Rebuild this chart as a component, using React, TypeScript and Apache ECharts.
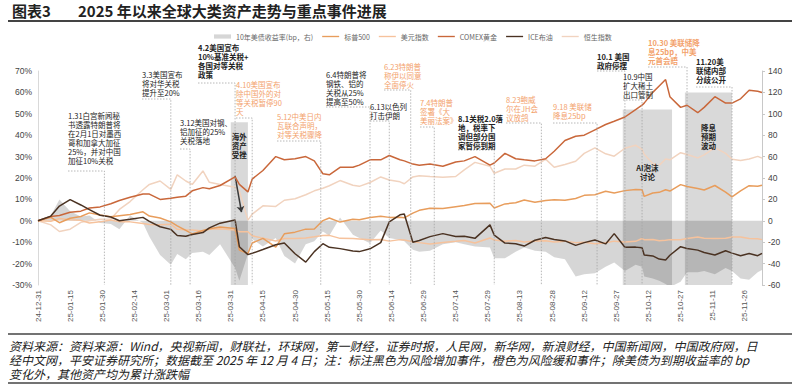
import React, { useEffect, useRef } from "react";
import * as echarts from "echarts";

// ---------- data ----------
const dates = [
  "2024-12-31","2025-01-06","2025-01-10","2025-01-15","2025-01-20","2025-01-24","2025-01-29","2025-02-03","2025-02-07","2025-02-12",
  "2025-02-18","2025-02-21","2025-02-26","2025-03-03","2025-03-06","2025-03-10","2025-03-13","2025-03-18","2025-03-21","2025-03-26",
  "2025-04-02","2025-04-04","2025-04-08","2025-04-10","2025-04-15","2025-04-21","2025-04-25","2025-04-30","2025-05-05","2025-05-09",
  "2025-05-13","2025-05-16","2025-05-21","2025-05-27","2025-05-30","2025-06-04","2025-06-09","2025-06-13","2025-06-18","2025-06-20",
  "2025-06-24","2025-06-27","2025-07-02","2025-07-08","2025-07-14","2025-07-18","2025-07-23","2025-07-30","2025-08-01","2025-08-06",
  "2025-08-11","2025-08-15","2025-08-20","2025-08-25","2025-08-29","2025-09-03","2025-09-08","2025-09-12","2025-09-17","2025-09-22",
  "2025-09-26","2025-10-01","2025-10-06","2025-10-09","2025-10-10","2025-10-14","2025-10-17","2025-10-20","2025-10-22","2025-10-27",
  "2025-10-30","2025-11-04","2025-11-07","2025-11-12","2025-11-17","2025-11-20","2025-11-24","2025-11-28","2025-12-02","2025-12-04"
];
// 10Y UST yield change, bp (right axis)
const ust10y = [
  0,5,20,9,4,5,-2,-3,-8,5,
  -2,-15,-32,-41,-31,-36,-30,-29,-32,-22,
  -44,-56,-31,-17,-24,-16,-33,-40,-22,-19,
  -10,-14,3,-13,-16,-21,-9,-16,-18,-19,
  -27,-29,-28,-22,-20,-22,-24,-25,-35,-35,
  -29,-25,-28,-29,-34,-36,-52,-50,-49,-43,
  -39,-47,-41,-43,-52,-54,-56,-59,-62,-57,
  -48,-48,-47,-50,-44,-47,-54,-55,-48,-46
];
const spx = [
  0,1.6,-0.9,1.2,2.0,3.7,2.7,1.9,2.4,2.9,
  4.2,2.2,1.3,-0.5,-2.4,-4.5,-6.1,-4.5,-3.7,-2.9,
  -3.6,-13.7,-15.3,-10.4,-8.2,-12.3,-6.1,-5.3,-3.9,-3.8,
  0.1,1.3,-0.6,0.7,0.5,1.5,2.1,1.6,1.7,1.4,
  3.6,4.9,5.9,5.8,6.6,7.1,8.1,8.2,6.0,7.9,
  8.4,9.7,8.7,9.5,9.8,9.6,10.4,11.9,12.2,13.8,
  13.0,14.1,14.6,14.5,11.4,13.0,13.3,14.5,13.9,16.9,
  16.0,15.1,14.4,16.5,13.4,11.2,14.0,16.4,16.1,16.6
];
const dxy = [
  0,-0.2,1.1,0.5,0.2,-1.0,-0.5,0.4,-0.4,-0.5,
  -1.3,-1.7,-1.9,-1.6,-4.0,-4.2,-4.3,-4.8,-4.0,-3.7,
  -4.3,-5.1,-5.1,-7.0,-8.1,-9.4,-8.3,-8.3,-8.0,-7.5,
  -6.9,-6.8,-8.2,-8.3,-8.5,-8.9,-8.7,-9.5,-8.8,-9.0,
  -9.8,-10.2,-10.8,-10.1,-9.6,-9.2,-10.4,-8.0,-9.0,-9.5,
  -9.2,-9.9,-9.4,-9.3,-9.9,-9.5,-10.2,-10.0,-10.7,-10.3,
  -9.5,-9.9,-9.6,-8.3,-8.8,-8.7,-9.3,-9.1,-8.8,-8.9,
  -8.3,-7.6,-8.2,-8.3,-8.2,-7.6,-7.6,-8.3,-8.4,-8.8
];
const gold = [
  0,2,2.5,4,4.5,6,6.5,8,9.5,11,
  12.5,12.5,10,10.5,11,11.5,14,15.5,15,16.5,
  20.5,17,13.5,19.5,23.5,30,28.5,29,30,28,
  22,21.5,25,25,26,28.5,28.5,30.5,28.5,28,
  26.5,26,26.5,25.5,27.5,28,30,26,27,31.5,
  29,28.5,28,29,32.5,37.5,39.5,40,42.5,45,
  46.5,48.5,52,54,55,60,63,66,58,53,
  54,50.5,53,58,55,55,57,61,60.5,60
];
const brent = [
  0,2.2,6.9,9.9,7.4,5.2,2.6,1.8,0,0.7,
  1.6,-0.3,-2.8,-4.0,-6.9,-7.2,-6.4,-5.5,-3.3,-1.1,
  0.4,-12.1,-15.8,-15.2,-13.4,-11.2,-10.4,-15.4,-19.3,-14.4,
  -10.7,-12.4,-13.0,-14.1,-14.4,-13.1,-10.2,-0.5,2.8,3.2,
  -10.0,-9.2,-7.4,-6.0,-7.3,-7.2,-8.2,-1.9,-6.7,-10.4,
  -10.7,-11.8,-9.1,-7.8,-8.7,-9.4,-11.5,-10.2,-9.0,-10.8,
  -6.0,-12.4,-12.3,-12.6,-16.0,-16.4,-17.9,-18.3,-16.1,-12.1,
  -12.9,-13.7,-14.8,-16.0,-14.0,-15.1,-16.3,-15.3,-16.3,-15.2
];
const hsi = [
  0,-1.9,-5.0,-3.9,-0.7,0,0.7,0.8,5.3,9.0,
  14.5,17.0,18.6,14.7,21.5,18.6,17.0,23.3,18.0,17.0,
  15.7,13.9,0.3,3.1,7.0,6.7,9.6,10.3,12.2,14.0,
  15.2,16.4,18.8,16.6,16.1,17.9,20.5,19.1,18.2,17.3,
  20.5,21.1,20.7,20.4,20.7,23.8,27.3,25.5,22.2,24.2,
  24.2,26.0,25.5,28.8,25.0,26.3,27.8,31.5,34.1,31.3,
  30.2,33.9,35.3,33.4,31.1,26.8,25.9,28.9,28.5,31.8,
  31.0,29.4,30.8,34.2,31.5,28.8,28.2,28.9,30.1,29.3
];

const seriesNames = ["10年美债收益率(bp，右)", "标普500", "美元指数", "COMEX黄金", "ICE布油", "恒生指数"];
const xStart = "2024-12-31";
const xEnd = "2025-12-04";

// shaded periods
const periodStarts = ["2025-03-31", "2025-09-30", "2025-10-29"];
const periodEnds = ["2025-04-08", "2025-10-23", "2025-11-20"];
const periodLabels = ["海外\n资产\n受挫", "AI泡沫\n讨论", "降息\n预期\n波动"];
const periodTops = [92, 104, 120]; // right-axis units

// events
const eventDates = [
  "2025-01-31","2025-03-03","2025-03-12","2025-04-02","2025-04-10","2025-05-12","2025-06-04","2025-06-13","2025-06-23",
  "2025-07-04","2025-08-01","2025-08-23","2025-09-18","2025-10-01","2025-10-09","2025-10-30","2025-11-20"
];
const eventKinds = ["risk","risk","risk","risk","ease","ease","risk","risk","ease","ease","risk","ease","ease","risk","risk","ease","risk"];
const eventTexts = [
  "1.31白宫新闻秘\n书透露特朗普将\n在2月1日对墨西\n哥和加拿大加征\n25%，并对中国\n加征10%关税",
  "3.3美国宣布\n将对华关税\n提升至20%",
  "3.12美国对钢、\n铝加征的25%\n关税落地",
  "4.2美国宣布\n10%基准关税+\n各国对等关税\n政策",
  "4.10美国宣布\n除中国外的对\n等关税暂停90\n天",
  "5.12中美日内\n瓦联合声明，\n对等关税骤降",
  "6.4特朗普将\n钢铁、铝的\n关税从25%\n提高至50%",
  "6.13以色列\n打击伊朗",
  "6.23特朗普\n称伊以同意\n全面停火",
  "7.4特朗普\n签署《大\n美丽法案》",
  "8.1关税2.0落\n地，税率下\n调但部分国\n家暂停到期",
  "8.23鲍威\n尔在JH会\n议放鸽",
  "9.18 美联储\n降息25bp",
  "10.1 美国\n政府停摆",
  "10.9中国\n扩大稀土\n出口管制",
  "10.30 美联储降\n息25bp，中美\n元首会晤",
  "11.20美\n联储内部\n分歧公开"
];
// layout (pixels): text left, text top, leader y, bold
const eventLayout = [
  { tx: 68, ty: 111, ly: 171, bold: false },
  { tx: 142, ty: 70, ly: 99, bold: false },
  { tx: 180, ty: 118, ly: 149, bold: false },
  { tx: 198, ty: 43, ly: 83, bold: true },
  { tx: 236, ty: 80, ly: 118, bold: false },
  { tx: 277, ty: 112, ly: 141, bold: false },
  { tx: 326, ty: 70, ly: 107, bold: false },
  { tx: 370, ty: 102, ly: 121, bold: false },
  { tx: 384, ty: 62, ly: 90, bold: false },
  { tx: 420, ty: 98, ly: 127, bold: false },
  { tx: 458, ty: 114, ly: 150, bold: true },
  { tx: 506, ty: 95, ly: 123, bold: false },
  { tx: 553, ty: 102, ly: 123, bold: false },
  { tx: 597, ty: 52, ly: 71, bold: true },
  { tx: 623, ty: 72, ly: 100, bold: false },
  { tx: 648, ty: 38, ly: 67, bold: true },
  { tx: 696, ty: 57, ly: 87, bold: true }
];

const footerLines = [
  "资料来源：资料来源：Wind，央视新闻，财联社，环球网，第一财经，证券时报，人民网，新华网，新浪财经，中国新闻网，中国政府网，日",
  "经中文网，平安证券研究所；数据截至 2025 年 12 月 4 日；注：标注黑色为风险增加事件，橙色为风险缓和事件；除美债为到期收益率的 bp",
  "变化外，其他资产均为累计涨跌幅"
];

// ---------- helpers ----------
const BASE = Date.UTC(2024, 11, 31);
const dayOf = (s: string) => {
  const [y, m, d] = s.split("-").map(Number);
  return Math.round((Date.UTC(y, m - 1, d) - BASE) / 86400000);
};
const fmtDay = (v: number) => {
  const t = new Date(BASE + v * 86400000);
  const yy = String(t.getUTCFullYear()).slice(2);
  const mm = String(t.getUTCMonth() + 1).padStart(2, "0");
  const dd = String(t.getUTCDate()).padStart(2, "0");
  return `${yy}-${mm}-${dd}`;
};
const pts = (vals: number[]) => dates.map((d, i) => [dayOf(d), vals[i]]);

const CJK = '"Noto Sans CJK SC", "Liberation Sans", sans-serif';
const LAT = '"Liberation Sans", Arial, "Noto Sans CJK SC", sans-serif';
const COLORS = {
  ust: "rgba(0,0,0,0.16)",
  spx: "#e89d5c",
  dxy: "#f6c29c",
  gold: "#c9673a",
  brent: "#4a3222",
  hsi: "#f1d3bf",
  risk: "#222222",
  ease: "#f3a26c",
};

export default function App() {
  const ref = useRef<HTMLDivElement>(null);
  useEffect(() => {
    document.body.style.margin = "0";
    if (!ref.current) return;
    const chart = echarts.init(ref.current, undefined, { renderer: "svg" });
    const lineSeries = (name: string, vals: number[], color: string, z: number, extra: any = {}) => ({
      name, type: "line", data: pts(vals), showSymbol: false, symbol: "none",
      color, lineStyle: { color, width: 1.5 }, z, ...extra,
    });
    const lineIcon = "path://M0,0H20V1.6H0Z";
    const option: any = {
      animation: false,
      backgroundColor: "#fff",
      textStyle: { fontFamily: CJK },
      grid: { left: 38, right: 38, top: 71, bottom: 100, containLabel: false },
      legend: {
        left: 209, top: 28, width: 590, itemWidth: 17, itemHeight: 7, itemGap: 9,
        textStyle: { fontSize: 7, color: "#666", fontFamily: CJK },
        data: [
          { name: seriesNames[0], icon: "path://M0,0H20V5H0Z" },
          { name: seriesNames[1], icon: lineIcon },
          { name: seriesNames[2], icon: lineIcon },
          { name: seriesNames[3], icon: lineIcon },
          { name: seriesNames[4], icon: lineIcon },
          { name: seriesNames[5], icon: lineIcon },
        ],
      },
      xAxis: {
        type: "value", min: dayOf(xStart), max: dayOf(xEnd), interval: 15,
        axisLine: { show: false, onZero: false }, axisTick: { show: false }, splitLine: { show: false },
        axisLabel: {
          rotate: 90, fontSize: 8, color: "#555", margin: 5, fontFamily: LAT,
          showMaxLabel: false, formatter: (v: number) => fmtDay(v),
        },
      },
      yAxis: [
        {
          type: "value", min: -30, max: 70, interval: 10,
          axisLine: { show: true, lineStyle: { color: "#d9d9d9" } }, axisTick: { show: false },
          splitLine: { show: false },
          axisLabel: { formatter: "{value}%", fontSize: 8.5, color: "#444", fontFamily: LAT, margin: 6 },
        },
        {
          type: "value", min: -60, max: 140, interval: 20, position: "right",
          axisLine: { show: true, lineStyle: { color: "#c8c8c8" } },
          axisTick: { show: true, length: 3, lineStyle: { color: "#c8c8c8" } },
          splitLine: { show: false },
          axisLabel: { fontSize: 8.5, color: "#444", fontFamily: LAT, margin: 6 },
        },
      ],
      series: [
        {
          name: seriesNames[0], type: "line", yAxisIndex: 1, data: pts(ust10y), showSymbol: false, symbol: "none",
          color: COLORS.ust, lineStyle: { width: 0 }, areaStyle: { color: COLORS.ust, opacity: 1 }, z: 1,
          markArea: {
            silent: true,
            itemStyle: { color: "rgba(0,0,0,0.15)" },
            label: { show: false },
            data: periodStarts.map((s, i) => [
              { xAxis: dayOf(s), yAxis: periodTops[i] },
              { xAxis: dayOf(periodEnds[i]), yAxis: -60 },
            ]),
          },
        },
        lineSeries(seriesNames[5], hsi, COLORS.hsi, 2),
        lineSeries(seriesNames[2], dxy, COLORS.dxy, 3),
        lineSeries(seriesNames[1], spx, COLORS.spx, 4),
        lineSeries(seriesNames[3], gold, COLORS.gold, 5, {
          markLine: {
            silent: true, symbol: ["none", "arrow"], symbolSize: 6,
            lineStyle: { color: "#3a3a3a", width: 1.5, type: "solid" },
            label: { show: false },
            data: [[{ coord: [dayOf("2025-04-02"), 21] }, { coord: [dayOf("2025-04-05"), 4] }]],
          },
        }),
        lineSeries(seriesNames[4], brent, COLORS.brent, 6),
      ],
    };
    chart.setOption(option);

    const toX = (d: number) => chart.convertToPixel({ xAxisIndex: 0 }, d) as number;
    const yBottom = chart.convertToPixel({ yAxisIndex: 0 }, -30) as number;
    const g: any[] = [];
    // title
    g.push({ type: "text", x: 12, y: 3, z: 20, style: { text: "图表3", font: `bold 15px ${CJK}`, fill: "#222", verticalAlign: "top", textVerticalAlign: "top" } });
    g.push({ type: "text", x: 78, y: 3, z: 20, style: { text: "2025 年以来全球大类资产走势与重点事件进展", font: `bold 15px ${CJK}`, fill: "#222", verticalAlign: "top", textVerticalAlign: "top" } });
    g.push({ type: "line", z: 20, shape: { x1: 8, y1: 21, x2: 792, y2: 21 }, style: { stroke: "#444", lineWidth: 2 } });
    // footer
    g.push({ type: "line", z: 20, shape: { x1: 8, y1: 334, x2: 792, y2: 334 }, style: { stroke: "#444", lineWidth: 1.5 } });
    g.push({ type: "line", z: 20, shape: { x1: 8, y1: 383, x2: 792, y2: 383 }, style: { stroke: "#444", lineWidth: 1.5 } });
    footerLines.forEach((t, i) => {
      g.push({ type: "text", x: 9, y: 339 + i * 14, z: 20, style: { text: t, font: `italic 12px ${CJK}`, fill: "#222", lineHeight: 13, verticalAlign: "top", textVerticalAlign: "top" } });
    });
    // events
    eventDates.forEach((d, i) => {
      const L = eventLayout[i];
      const ex = toX(dayOf(d));
      const color = eventKinds[i] === "risk" ? COLORS.risk : COLORS.ease;
      g.push({
        type: "polyline", z: 8, silent: true,
        shape: { points: [[L.tx, L.ly], [ex, L.ly], [ex, yBottom]] },
        style: { stroke: "#a6a6a6", lineWidth: 0.8, lineDash: [1.5, 1.5], fill: null },
      });
      g.push({
        type: "text", x: L.tx, y: L.ty, z: 15,
        style: {
          text: eventTexts[i], font: `${L.bold ? "bold " : ""}7.5px ${CJK}`, fill: color,
          lineHeight: 9, verticalAlign: "top", textVerticalAlign: "top",
        },
      });
    });
    // period labels
    const labelTops = [132, 163, 123];
    periodStarts.forEach((s, i) => {
      const cx = (toX(dayOf(s)) + toX(dayOf(periodEnds[i]))) / 2;
      g.push({
        type: "text", x: cx, y: labelTops[i], z: 15,
        style: {
          text: periodLabels[i], font: `bold 7.5px ${CJK}`, fill: "#222", lineHeight: 9,
          align: "center", textAlign: "center", verticalAlign: "top", textVerticalAlign: "top",
        },
      });
    });
    chart.setOption({ graphic: g });
    return () => chart.dispose();
  }, []);
  return <div ref={ref} style={{ width: 800, height: 385, overflow: "hidden" }} />;
}
